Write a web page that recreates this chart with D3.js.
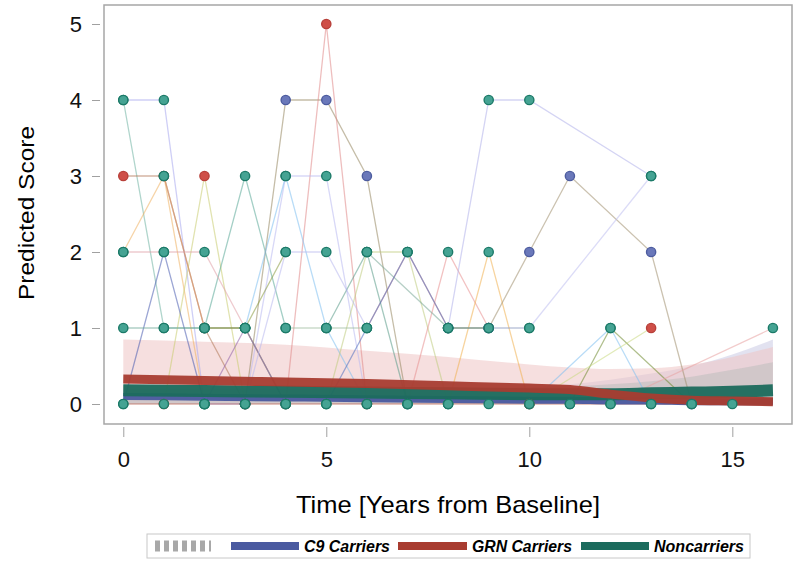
<!DOCTYPE html>
<html>
<head>
<meta charset="utf-8">
<script src="https://cdn.jsdelivr.net/npm/d3@7"></script>
<style>
  body { margin: 0; background: #fff; }
  svg { display: block; font-family: "Liberation Sans", Arial, sans-serif; }
  .tick text { fill: #111; }
</style>
</head>
<body>
<div id="chart"></div>
<script>
// ---- data ----
var xTicks = [0, 5, 10, 15];
var yTicks = [0, 1, 2, 3, 4, 5];
var groups = ['C9 Carriers', 'GRN Carriers', 'Noncarriers'];

// individual trajectories: group, visit times, observed scores
var subjGroup = ['NC','NC','GRN','NC','GRN','NC','NC','NC','C9','GRN',
                 'NC','NC','NC','NC','NC','NC','NC','NC','NC','NC',
                 'NC','NC','C9','NC','NC','NC','GRN','NC','NC','NC',
                 'NC','NC','NC','NC'];
var subjTimes = [
  [0,1,2,3], [0,1,2], [0,1,2,3], [0,1,2], [1,2,3], [0,1,2], [1,2,3,4], [2,3,4],
  [3,4,5,6,7], [4,5,6], [3,4,5,6], [3,4,5,6], [0,1,2,3], [0,1,2,3,4], [2,3,4],
  [2,3,4], [5,6,7,8], [6,7,8], [7,8,9], [8,9,10], [8,9,10], [8,9,10,13],
  [8,9,10,11,13,14], [10,13], [11,12,14], [10,12,13], [10,13], [12,16],
  [0,1,2,3,4,5,6,7,8,9,10,11,12,13,14,15], [5,6,7], [6,8,9], [5,7,8],
  [3,4,5,6], [4,5,6]
];
var subjScores = [
  [4,4,0,0], [4,1,1], [3,3,1,0], [2,3,0], [0,3,0], [0,2,0], [3,1,1,0], [1,3,1],
  [0,4,4,3,0], [0,5,0], [0,3,3,0], [1,3,1,0], [2,2,2,1], [1,1,1,1,0], [1,1,2],
  [0,1,0], [0,2,2,0], [1,2,1], [0,2,1], [0,2,0], [1,1,1], [1,4,4,3],
  [1,1,2,3,2,0], [1,3], [0,1,0], [0,1,0], [0,1], [0,1],
  [0,0,0,0,0,0,0,0,0,0,0,0,0,0,0,0], [1,2,0], [2,1,1], [0,2,1],
  [0,2,2,1], [1,1,1]
];

// model predictions and confidence limits
var predTimes = [0, 2, 4, 6, 8, 10, 11, 12, 13, 14, 15, 16];
var c9Mean   = [0.10,0.09,0.08,0.07,0.06,0.05,0.05,0.04,0.04,0.03,0.03,0.03];
var grnMean  = [0.33,0.31,0.29,0.27,0.24,0.21,0.19,0.13,0.08,0.05,0.04,0.03];
var ncMean   = [0.18,0.17,0.16,0.15,0.14,0.13,0.13,0.13,0.14,0.15,0.16,0.18];
var c9Upper  = [0.20,0.20,0.20,0.20,0.20,0.22,0.26,0.32,0.40,0.50,0.65,0.85];
var grnUpper = [0.85,0.82,0.78,0.70,0.62,0.52,0.48,0.46,0.47,0.52,0.62,0.75];
var ncUpper  = [0.25,0.25,0.24,0.23,0.22,0.22,0.23,0.26,0.30,0.36,0.45,0.55];
var bandLower = [0,0,0,0,0,0,0,0,0,0,0,0];

// ---- styles ----
var lineColors = ['#a8a8ee','#6fb3a3','#b07858','#efb060','#c8cc70','#4a5cb0',
                  '#d89060','#5aa898','#958760','#e08888','#b8b8f0','#80c0f0',
                  '#e0a0a8','#6fa898','#8a9a40','#9060a8','#c0cc80','#d08080',
                  '#e89090','#f0b050','#8898c0','#b0b0ea','#a09070','#c0c0f0',
                  '#708a30','#80c0f0','#c8d880','#e8a0a0','#c07060','#5a9a88',
                  '#7aa898','#5070c0','#b8b8ee','#a0c0a0'];
var markFill = {C9: '#6a78ba', GRN: '#cf4f48', NC: '#45a393'};
var markStroke = {C9: '#4d5c9f', GRN: '#b8403a', NC: '#1c7a68'};
var meanColor = {C9: '#4a5aa0', GRN: '#a83c30', NC: '#1b6b5d'};

var W = 800, H = 568;
var svg = d3.select('#chart').append('svg').attr('width', W).attr('height', H);

var x = d3.scaleLinear().domain([-0.475, 16.47]).range([104, 792]);
var y = d3.scaleLinear().domain([-0.263, 5.25]).range([424, 5]);

var plot = svg.append('g');
plot.append('clipPath').attr('id', 'clip')
  .append('rect').attr('x', 104).attr('y', 5).attr('width', 688).attr('height', 419);
var inner = plot.append('g').attr('clip-path', 'url(#clip)');

// confidence bands
function band(upper, fill, op) {
  var area = d3.area()
    .x(function(d, i) { return x(predTimes[i]); })
    .y0(function(d, i) { return y(bandLower[i]); })
    .y1(function(d) { return y(d); })
    .curve(d3.curveMonotoneX);
  inner.append('path').datum(upper).attr('d', area)
    .attr('fill', fill).attr('fill-opacity', op);
}
band(c9Upper, '#cfcfe6', 0.6);
band(grnUpper, '#eec4c4', 0.55);
band(ncUpper, '#bdbdbd', 0.55);

// spaghetti lines
var line = d3.line()
  .x(function(d) { return x(d[0]); })
  .y(function(d) { return y(d[1]); });
subjTimes.forEach(function(ts, i) {
  var pts = ts.map(function(t, j) { return [t, subjScores[i][j]]; });
  inner.append('path').datum(pts).attr('d', line)
    .attr('fill', 'none')
    .attr('stroke', lineColors[i % lineColors.length])
    .attr('stroke-width', 1.3)
    .attr('stroke-opacity', 0.55);
});

// mean prediction lines
function meanLine(vals, key, w) {
  var l = d3.line()
    .x(function(d, i) { return x(predTimes[i]); })
    .y(function(d) { return y(d); })
    .curve(d3.curveMonotoneX);
  inner.append('path').datum(vals).attr('d', l)
    .attr('fill', 'none').attr('stroke', meanColor[key])
    .attr('stroke-width', w).attr('stroke-opacity', 0.95);
}
meanLine(c9Mean, 'C9', 7);
meanLine(ncMean, 'NC', 12);
meanLine(grnMean, 'GRN', 9);

// markers
subjTimes.forEach(function(ts, i) {
  var g = subjGroup[i];
  ts.forEach(function(t, j) {
    plot.append('circle')
      .attr('cx', x(t)).attr('cy', y(subjScores[i][j])).attr('r', 4.6)
      .attr('fill', markFill[g]).attr('stroke', markStroke[g])
      .attr('stroke-width', 1.4);
  });
});

// frame
svg.append('rect').attr('x', 104).attr('y', 5).attr('width', 688).attr('height', 419)
  .attr('fill', 'none').attr('stroke', '#a6a6a6').attr('stroke-width', 1.5);

// axes
var xAxis = svg.append('g').attr('transform', 'translate(0,427)')
  .call(d3.axisBottom(x).tickValues(xTicks).tickSize(10).tickPadding(14)
    .tickFormat(d3.format('d')));
var yAxis = svg.append('g').attr('transform', 'translate(100,0)')
  .call(d3.axisLeft(y).tickValues(yTicks).tickSize(8).tickPadding(10)
    .tickFormat(d3.format('d')));
[xAxis, yAxis].forEach(function(a) {
  a.select('.domain').remove();
  a.selectAll('.tick line').attr('stroke', '#a0a0a0');
  a.selectAll('.tick text').style('font-size', '22px')
    .style('font-family', '"Liberation Sans", Arial, sans-serif');
});

svg.append('text')
  .attr('x', 448).attr('y', 513)
  .attr('text-anchor', 'middle')
  .attr('textLength', 304).attr('lengthAdjust', 'spacingAndGlyphs')
  .style('font-size', '24px')
  .text('Time [Years from Baseline]');

svg.append('text')
  .attr('transform', 'translate(34,213) rotate(-90)')
  .attr('text-anchor', 'middle')
  .attr('textLength', 174).attr('lengthAdjust', 'spacingAndGlyphs')
  .style('font-size', '22px')
  .text('Predicted Score');

// legend
var leg = svg.append('g');
leg.append('rect').attr('x', 147).attr('y', 534).attr('width', 603).attr('height', 24)
  .attr('fill', '#fff').attr('stroke', '#c8c8c8');
leg.append('line').attr('x1', 155).attr('x2', 211).attr('y1', 546).attr('y2', 546)
  .attr('stroke', '#a8a8a8').attr('stroke-width', 11).attr('stroke-dasharray', '5,4');
var items = [
  {key: 'C9', x0: 231, x1: 299, tx: 304, tl: 86},
  {key: 'GRN', x0: 398, x1: 467, tx: 472, tl: 100},
  {key: 'NC', x0: 581, x1: 649, tx: 654, tl: 90}
];
items.forEach(function(it, i) {
  leg.append('rect').attr('x', it.x0).attr('y', 542).attr('width', it.x1 - it.x0)
    .attr('height', 8).attr('fill', meanColor[it.key]);
  leg.append('text').attr('x', it.tx).attr('y', 552)
    .attr('textLength', it.tl).attr('lengthAdjust', 'spacingAndGlyphs')
    .style('font-size', '16px').style('font-weight', 'bold').style('font-style', 'italic')
    .text(groups[i]);
});
</script>
</body>
</html>
